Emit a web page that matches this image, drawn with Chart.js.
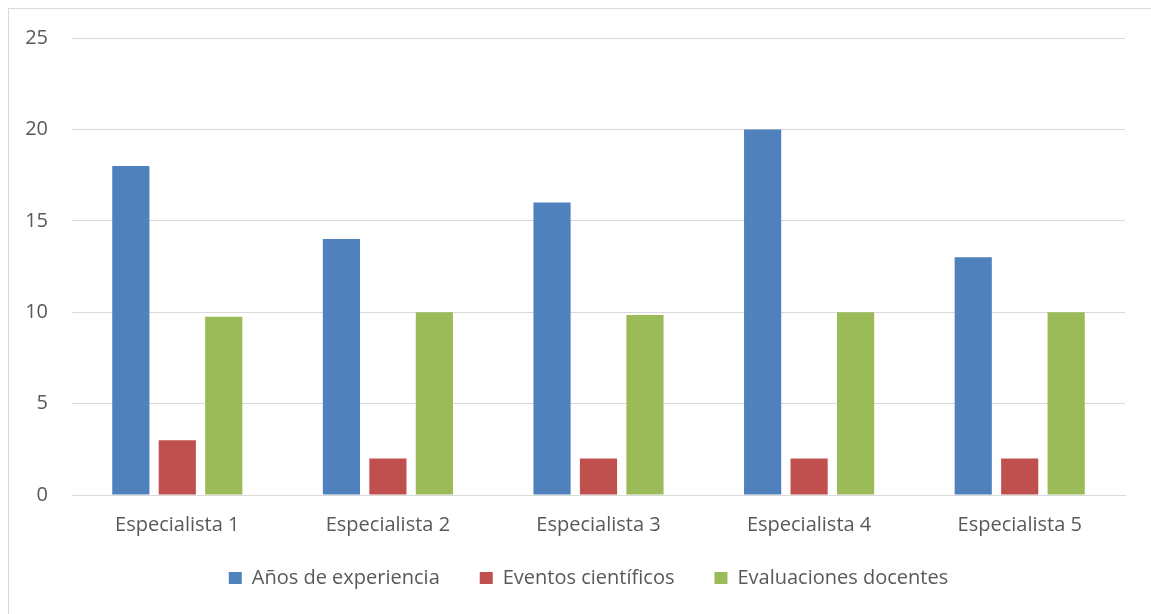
<!DOCTYPE html>
<html>
<head>
<meta charset="utf-8">
<script src="https://cdn.jsdelivr.net/npm/chart.js@4"></script>
<style>
  body { margin: 0; background: #fff; }
  #wrap { position: relative; width: 1151px; height: 614px; overflow: hidden; }
  #marco { position: absolute; left: 8px; top: 8px; width: 1200px; height: 700px; border: 1px solid #d9d9d9; box-sizing: border-box; }
  canvas { position: absolute; left: 0; top: 0; }
</style>
</head>
<body>
<div id="wrap">
  <div id="marco"></div>
  <canvas id="grafico" width="1151" height="614"></canvas>
</div>
<script>
// datos
var categorias = ["Especialista 1", "Especialista 2", "Especialista 3", "Especialista 4", "Especialista 5"];
var anosExperiencia = [18, 14, 16, 20, 13];
var eventosCientificos = [3, 2, 2, 2, 2];
var evaluacionesDocentes = [9.75, 10, 9.85, 10, 10];
var ticksY = [0, 5, 10, 15, 20, 25];

var fuente = "'Open Sans', 'Noto Sans', sans-serif";

// sube la leyenda para que quede justo debajo de las etiquetas
var moverLeyenda = {
    id: 'moverLeyenda',
    afterLayout: function (chart) {
        var ley = chart.legend;
        ley.top = 528;
        ley.bottom = 614;
        ley.height = 614 - 528;
        ley.left += 22;
        ley.right += 22;
    }
};

var ctx = document.getElementById("grafico");

var miGrafico = new Chart(ctx, {
    type: 'bar',
    data: {
        labels: categorias,
        datasets: [
            {
                label: 'Años de experiencia',
                data: anosExperiencia,
                backgroundColor: '#4f81bd'
            },
            {
                label: 'Eventos científicos',
                data: eventosCientificos,
                backgroundColor: '#c0504d'
            },
            {
                label: 'Evaluaciones docentes',
                data: evaluacionesDocentes,
                backgroundColor: '#9bbb59'
            }
        ]
    },
    options: {
        responsive: false,
        animation: false,
        datasets: {
            bar: { categoryPercentage: 0.662, barPercentage: 0.8 }
        },
        layout: { padding: { left: 8, right: 26, top: 38, bottom: 20 } },
        scales: {
            x: {
                grid: { display: false, drawTicks: false },
                border: { color: '#d9d9d9', width: 1 },
                ticks: { color: '#595959', font: { family: fuente, size: 20 }, padding: 18, maxRotation: 0 },
                afterFit: function (scale) { scale.height = 45; }
            },
            y: {
                min: 0,
                max: 25,
                afterBuildTicks: function (scale) {
                    scale.ticks = ticksY.map(function (v) { return { value: v }; });
                },
                grid: { color: '#d9d9d9', lineWidth: 1, drawTicks: false },
                border: { display: false },
                ticks: { color: '#595959', font: { family: fuente, size: 20 }, padding: 24 },
                afterFit: function (scale) { scale.width = 64; }
            }
        },
        plugins: {
            tooltip: { enabled: false },
            legend: {
                position: 'bottom',
                maxHeight: 54,
                labels: {
                    color: '#595959',
                    font: { family: fuente, size: 20 },
                    boxWidth: 13,
                    boxHeight: 12,
                    padding: 40
                }
            }
        }
    },
    plugins: [moverLeyenda]
});
</script>
</body>
</html>
